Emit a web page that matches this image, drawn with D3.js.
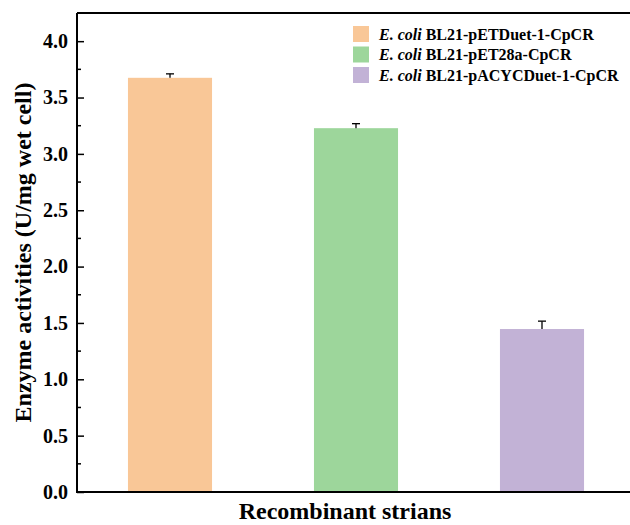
<!DOCTYPE html>
<html>
<head>
<meta charset="utf-8">
<script src="https://cdn.jsdelivr.net/npm/d3@7"></script>
<style>
  body { margin: 0; background: #fff; }
  svg text { font-family: "Liberation Serif", "Times New Roman", serif; font-weight: bold; fill: #000; }
</style>
</head>
<body>
<div id="main"></div>
<script>
const strains = ["BL21-pETDuet-1-CpCR", "BL21-pET28a-CpCR", "BL21-pACYCDuet-1-CpCR"];
const activity = [3.675, 3.228, 1.446];
const errors = [0.035, 0.04, 0.07];
const colors = ["#F9C797", "#9DD69B", "#C2B2D6"];
const yTicks = [0, 0.5, 1, 1.5, 2, 2.5, 3, 3.5, 4];

const width = 630;
const height = 525;
const plotLeft = 77;
const plotTop = 13;
const plotBottom = 492;
const plotRight = 630;

const svg = d3.select("#main")
    .append("svg")
    .attr("width", width)
    .attr("height", height);

const scaleY = d3.scaleLinear()
    .domain([0, 4.25])
    .range([plotBottom, plotTop]);

const scaleX = d3.scaleBand()
    .domain(strains)
    .range([plotLeft, 635])
    .paddingInner(0.548)
    .paddingOuter(0.274);

// bars
svg.selectAll("rect.bar")
    .data(strains)
    .enter()
    .append("rect")
    .attr("class", "bar")
    .attr("x", d => scaleX(d))
    .attr("width", scaleX.bandwidth())
    .attr("y", (d, i) => scaleY(activity[i]))
    .attr("height", (d, i) => plotBottom - scaleY(activity[i]))
    .attr("fill", (d, i) => colors[i]);

// error bars (upper only)
const err = svg.append("g").attr("stroke", "#000").attr("stroke-width", 1.3);
strains.forEach((s, i) => {
    const cx = scaleX(s) + scaleX.bandwidth() / 2;
    err.append("line")
        .attr("x1", cx).attr("x2", cx)
        .attr("y1", scaleY(activity[i])).attr("y2", scaleY(activity[i] + errors[i]));
    err.append("line")
        .attr("x1", cx - 4).attr("x2", cx + 4)
        .attr("y1", scaleY(activity[i] + errors[i])).attr("y2", scaleY(activity[i] + errors[i]));
});

// minor ticks
const minor = d3.range(0.25, 4.25, 0.5);
svg.append("g")
    .selectAll("line")
    .data(minor)
    .enter()
    .append("line")
    .attr("x1", plotLeft).attr("x2", plotLeft + 4)
    .attr("y1", d => scaleY(d)).attr("y2", d => scaleY(d))
    .attr("stroke", "#000").attr("stroke-width", 1.5);

// y axis
const yAxis = d3.axisLeft(scaleY)
    .tickValues(yTicks)
    .tickFormat(d3.format(".1f"))
    .tickSizeInner(-7)
    .tickSizeOuter(0)
    .tickPadding(9);

const yG = svg.append("g")
    .attr("transform", `translate(${plotLeft},0)`)
    .call(yAxis);
yG.select(".domain").remove();
yG.selectAll(".tick line").attr("stroke-width", 1.5);
yG.selectAll(".tick text")
    .attr("x", -9)
    .attr("font-family", "Liberation Serif")
    .attr("font-weight", "bold")
    .attr("font-size", 20);

// frame lines: left, bottom, top
svg.append("line").attr("x1", plotLeft).attr("x2", plotLeft).attr("y1", plotTop).attr("y2", plotBottom + 1)
    .attr("stroke", "#000").attr("stroke-width", 2);
svg.append("line").attr("x1", plotLeft).attr("x2", plotRight).attr("y1", plotBottom).attr("y2", plotBottom)
    .attr("stroke", "#000").attr("stroke-width", 2);
svg.append("line").attr("x1", plotLeft).attr("x2", plotRight).attr("y1", plotTop).attr("y2", plotTop)
    .attr("stroke", "#000").attr("stroke-width", 2);

// axis titles
svg.append("text")
    .attr("text-anchor", "middle")
    .attr("transform", `translate(31,${(plotTop + plotBottom) / 2}) rotate(-90)`)
    .style("font-size", "24px")
    .text("Enzyme activities (U/mg wet cell)");

svg.append("text")
    .attr("text-anchor", "middle")
    .attr("x", 345)
    .attr("y", 519)
    .style("font-size", "24px")
    .text("Recombinant strians");

// legend
const legend = svg.append("g").attr("transform", "translate(353,26)");
strains.forEach((s, i) => {
    const row = legend.append("g").attr("transform", `translate(0,${i * 20.5})`);
    row.append("rect")
        .attr("width", 16).attr("height", 16)
        .attr("fill", colors[i]);
    const t = row.append("text")
        .attr("x", 26)
        .attr("y", 13.5)
        .style("font-size", "16px");
    t.append("tspan").style("font-style", "italic").text("E. coli");
    t.append("tspan").text(" " + s);
});
</script>
</body>
</html>
